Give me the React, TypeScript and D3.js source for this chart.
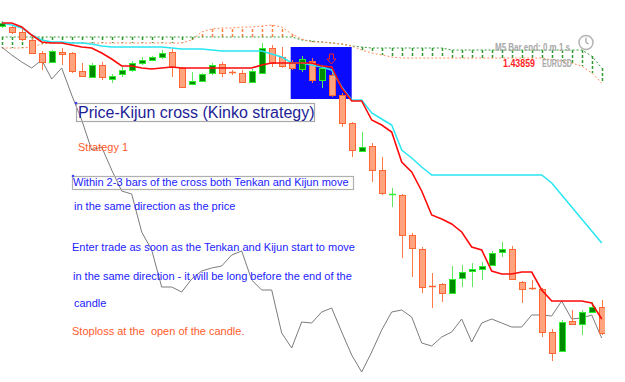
import React from "react";
import * as d3 from "d3";

// ---- data (price units, pips above an arbitrary base) ----
const barIndex = d3.range(61);
const openV = [374,373,368,360,347,338,348,347,329,323,335,321,326,330,337,340,343,348,332,316,319,327,336,328,327,318,327,352,343,337,331,339,320,325,305,277,249,254,230,205,205,165,151,114,116,107,122,129,131,135,148,151,118,112,111,68,49,79,76,88,93];
const highV = [379,375,373,362,349,350,352,348,337,337,338,326,334,339,343,344,350,351,333,328,327,337,338,330,330,331,357,355,353,340,344,342,335,333,307,278,268,257,243,212,206,167,153,127,117,134,135,137,138,149,158,154,119,120,112,71,80,90,90,98,100];
const lowV = [372,366,359,346,330,337,335,327,323,322,320,317,323,328,335,339,341,323,312,315,318,325,323,325,317,317,326,333,332,330,328,317,312,303,273,243,248,218,205,193,142,123,107,92,98,106,113,113,120,134,143,120,97,110,63,39,48,75,65,87,65];
const closeV = [377,368,361,347,338,349,346,329,324,335,323,324,330,337,340,343,347,333,313,319,326,335,327,327,318,329,352,337,334,332,341,320,332,305,277,250,253,230,207,206,165,152,113,113,107,121,128,131,134,147,151,121,111,111,68,47,78,76,88,93,67];
// direction of each bar (1 = bullish, 0 = bearish); dojis keep their colour
const bullish = [1,0,0,0,0,1,0,0,0,1,0,1,1,1,1,1,1,0,0,1,1,1,0,0,0,1,1,0,0,0,1,0,1,0,0,0,1,0,0,1,0,0,0,0,0,1,1,1,1,1,1,0,0,0,0,0,1,0,1,1,0];
const tenkan = [377,377,373,365,358,357,357,355,353,352,347,341,334,334,332,331,332,333,332,332,332,332,332,332,332,332,335,337,337,337,337,337,334,333,312,299,299,280,275,268,238,228,209,185,181,176,168,153,150,129,126,126,128,128,110,99,99,99,99,97,81];
const kijun = [377,375,372,365,360,358,358,357,357,356,354,353,353,353,353,353,353,352,351,351,351,350,349,349,349,349,349,346,343,337,337,335,333,330,313,300,300,287,281,275,250,242,233,225,225,225,225,225,225,225,225,225,225,225,225,217,205,193,181,169,157];
const chikou = [353,345,338,332,340,321,332,305,280,250,253,230,209,206,168,150,113,113,108,121,129,132,134,145,149,120,110,110,67,52,78,77,88,92,68,45,28,48,70,88,90,83,57,54,63,68,81,58,77,81,77,73,73,85,85,84,99,81,82,85,62];
const spanA = [363,363,363,363,363,363,363,363,363,363,363,363,363,363,363,363,363,363,363,363,363,363,363,363,363,363,363,363,363,363,360,359,358,357,356,354,353,352,352,352,352,352,352,352,352,350,350,350,350,350,350,350,350,350,350,350,350,350,350,344,332];
const spanB = [352,352,352,353,356,357,357,357,357,357,357,357,357,357,357,357,357,357,357,360,368,371,372,372,373,373,374,375,373,366,361,358,358,357,356,354,350,347,345,343,342,342,342,342,342,342,342,342,342,342,342,342,342,342,342,340,339,337,334,327,317];

// annotation: highlighted zone (bar range and price range), signal arrow
const zoneBars = [29, 35];
const zonePrice = [353, 301];
const arrowBar = 33;
const arrowPrice = 341;

const notesBlue = [
  { text: "Within 2-3 bars of the cross both Tenkan and Kijun move", x: 73, y: 186 },
  { text: "in the same direction as the price", x: 74, y: 210 },
  { text: "Enter trade as soon as the Tenkan and Kijun start to move", x: 72, y: 251 },
  { text: "in the same direction - it will be long before the end of the", x: 73, y: 280 },
  { text: "candle", x: 74, y: 307 },
];

const W = 625;
const H = 382;
const FONT = "'Liberation Sans', Arial, sans-serif";

export default function App() {
  const x = d3.scaleLinear().domain([0, 60]).range([1.7, 601.7]);
  const y = d3.scaleLinear().domain([18, 400]).range([382, 0]);
  const mk = (arr: number[]) =>
    d3.line<number>().x((_, i) => x(i)).y((d) => y(d))(arr) || "";

  const snap = (v: number) => Math.round(v) + 0.5;

  const zx0 = x(zoneBars[0]) - 1;
  const zx1 = x(zoneBars[1]);
  const zy0 = y(zonePrice[0]);
  const zy1 = y(zonePrice[1]);

  const ax = snap(x(arrowBar)) - 1;
  const ay = Math.round(y(arrowPrice));

  return (
    <svg
      width={W}
      height={H}
      style={{ position: "absolute", left: 0, top: 0, background: "#ffffff" }}
    >
      <defs>
        <clipPath id="plot">
          <rect x={0} y={0} width={605} height={H} />
        </clipPath>
      </defs>
      <rect x={0} y={0} width={W} height={H} fill="#ffffff" />
      <g clipPath="url(#plot)">
        {/* cloud verticals */}
        {barIndex.map((i) => {
          const up = spanA[i] >= spanB[i];
          return (
            <line
              key={"cv" + i}
              x1={snap(x(i))}
              x2={snap(x(i))}
              y1={y(spanA[i])}
              y2={y(spanB[i])}
              stroke={up ? "#2f9a2f" : "#ff8040"}
              strokeWidth={1.5}
              strokeDasharray="3,2"
            />
          );
        })}
        <path d={mk(spanA)} fill="none" stroke="#3c9c3c" strokeWidth={1} strokeDasharray="2,2" />
        <path d={mk(spanB)} fill="none" stroke="#ff8c5a" strokeWidth={1} strokeDasharray="2,2" />

        {/* highlight zone */}
        <rect x={zx0} y={zy0} width={zx1 - zx0} height={zy1 - zy0} fill="#0a0aff" />

        {/* chikou */}
        <path d={mk(chikou)} fill="none" stroke="#7c7c7c" strokeWidth={1} />

        {/* candles */}
        {barIndex.map((i) => {
          const o = openV[i];
          const c = closeV[i];
          const isBull = bullish[i] === 1;
          const cx = snap(x(i));
          const top = snap(y(Math.max(o, c)));
          const bot = snap(y(Math.min(o, c)));
          const wick = isBull ? "#5fe85f" : "#ff7a45";
          const stroke = isBull ? "#2ef02e" : "#ff6633";
          const fill = isBull ? "#008a00" : "#ffa47e";
          return (
            <g key={"c" + i}>
              <line x1={cx} x2={cx} y1={y(highV[i])} y2={y(lowV[i])} stroke={wick} strokeWidth={1} />
              {bot - top < 1.5 ? (
                <line x1={cx - 3.5} x2={cx + 3.5} y1={top} y2={top} stroke={stroke} strokeWidth={1.5} />
              ) : (
                <rect x={cx - 3} y={top} width={6} height={bot - top} fill={fill} stroke={stroke} strokeWidth={1} />
              )}
            </g>
          );
        })}

        {/* kijun & tenkan */}
        <path d={mk(kijun)} fill="none" stroke="#28e6f2" strokeWidth={1.5} />
        <path d={mk(tenkan)} fill="none" stroke="#ff0a0a" strokeWidth={1.6} />

        {/* signal arrow */}
        <path
          d={`M${ax - 2},${ay - 5} h4 v5 h2.5 l-4.5,5 l-4.5,-5 h2.5 Z`}
          fill="none"
          stroke="#ff2020"
          strokeWidth={1}
        />
      </g>

      {/* text notes */}
      <rect x={76.5} y={103.5} width={238} height={18} fill="none" stroke="#a8a8a8" strokeWidth={1.2} />
      <circle cx={76} cy={103} r={1.3} fill="#4040ff" />
      <text x={78} y={118} fontFamily={FONT} fontSize={16} fill="#1d1d96">
        Price-Kijun cross (Kinko strategy)
      </text>
      <text x={78} y={151} fontFamily={FONT} fontSize={11} fill="#ff5c2c">
        Strategy 1
      </text>
      <rect x={72.5} y={176.5} width={281} height={13} fill="none" stroke="#b0b0b0" strokeWidth={1.2} />
      <circle cx={73} cy={176} r={1.3} fill="#4040ff" />
      {notesBlue.map((n, k) => (
        <text key={"n" + k} x={n.x} y={n.y} fontFamily={FONT} fontSize={11} fill="#2222ff">
          {n.text}
        </text>
      ))}
      <text x={72} y={335} fontFamily={FONT} fontSize={11} fill="#ff5c2c" xmlSpace="preserve" style={{ whiteSpace: "pre" }}>
        {"Stoploss at the  open of the candle."}
      </text>

      {/* terminal labels */}
      <text x={495} y={51} fontFamily={FONT} fontSize={11} fontWeight="bold" fill="#a9a9a9" textLength={75} lengthAdjust="spacingAndGlyphs">
        M5 Bar end: 0 m 1 s
      </text>
      <text x={503} y={67} fontFamily={FONT} fontSize={11} fontWeight="bold" fill="#ff1e1e" textLength={32} lengthAdjust="spacingAndGlyphs">
        1.43859
      </text>
      <text x={542} y={67} fontFamily={FONT} fontSize={11} fontWeight="bold" fill="#a9a9a9" textLength={30} lengthAdjust="spacingAndGlyphs">
        EURUSD
      </text>
      <circle cx={586} cy={42.5} r={7} fill="#ffffff" stroke="#b4b4b4" strokeWidth={1.5} />
      <line x1={586} x2={586} y1={42.5} y2={37.5} stroke="#a0a0a0" strokeWidth={1.2} />
      <line x1={586} x2={588.5} y1={42.5} y2={44} stroke="#a0a0a0" strokeWidth={1.2} />
    </svg>
  );
}
